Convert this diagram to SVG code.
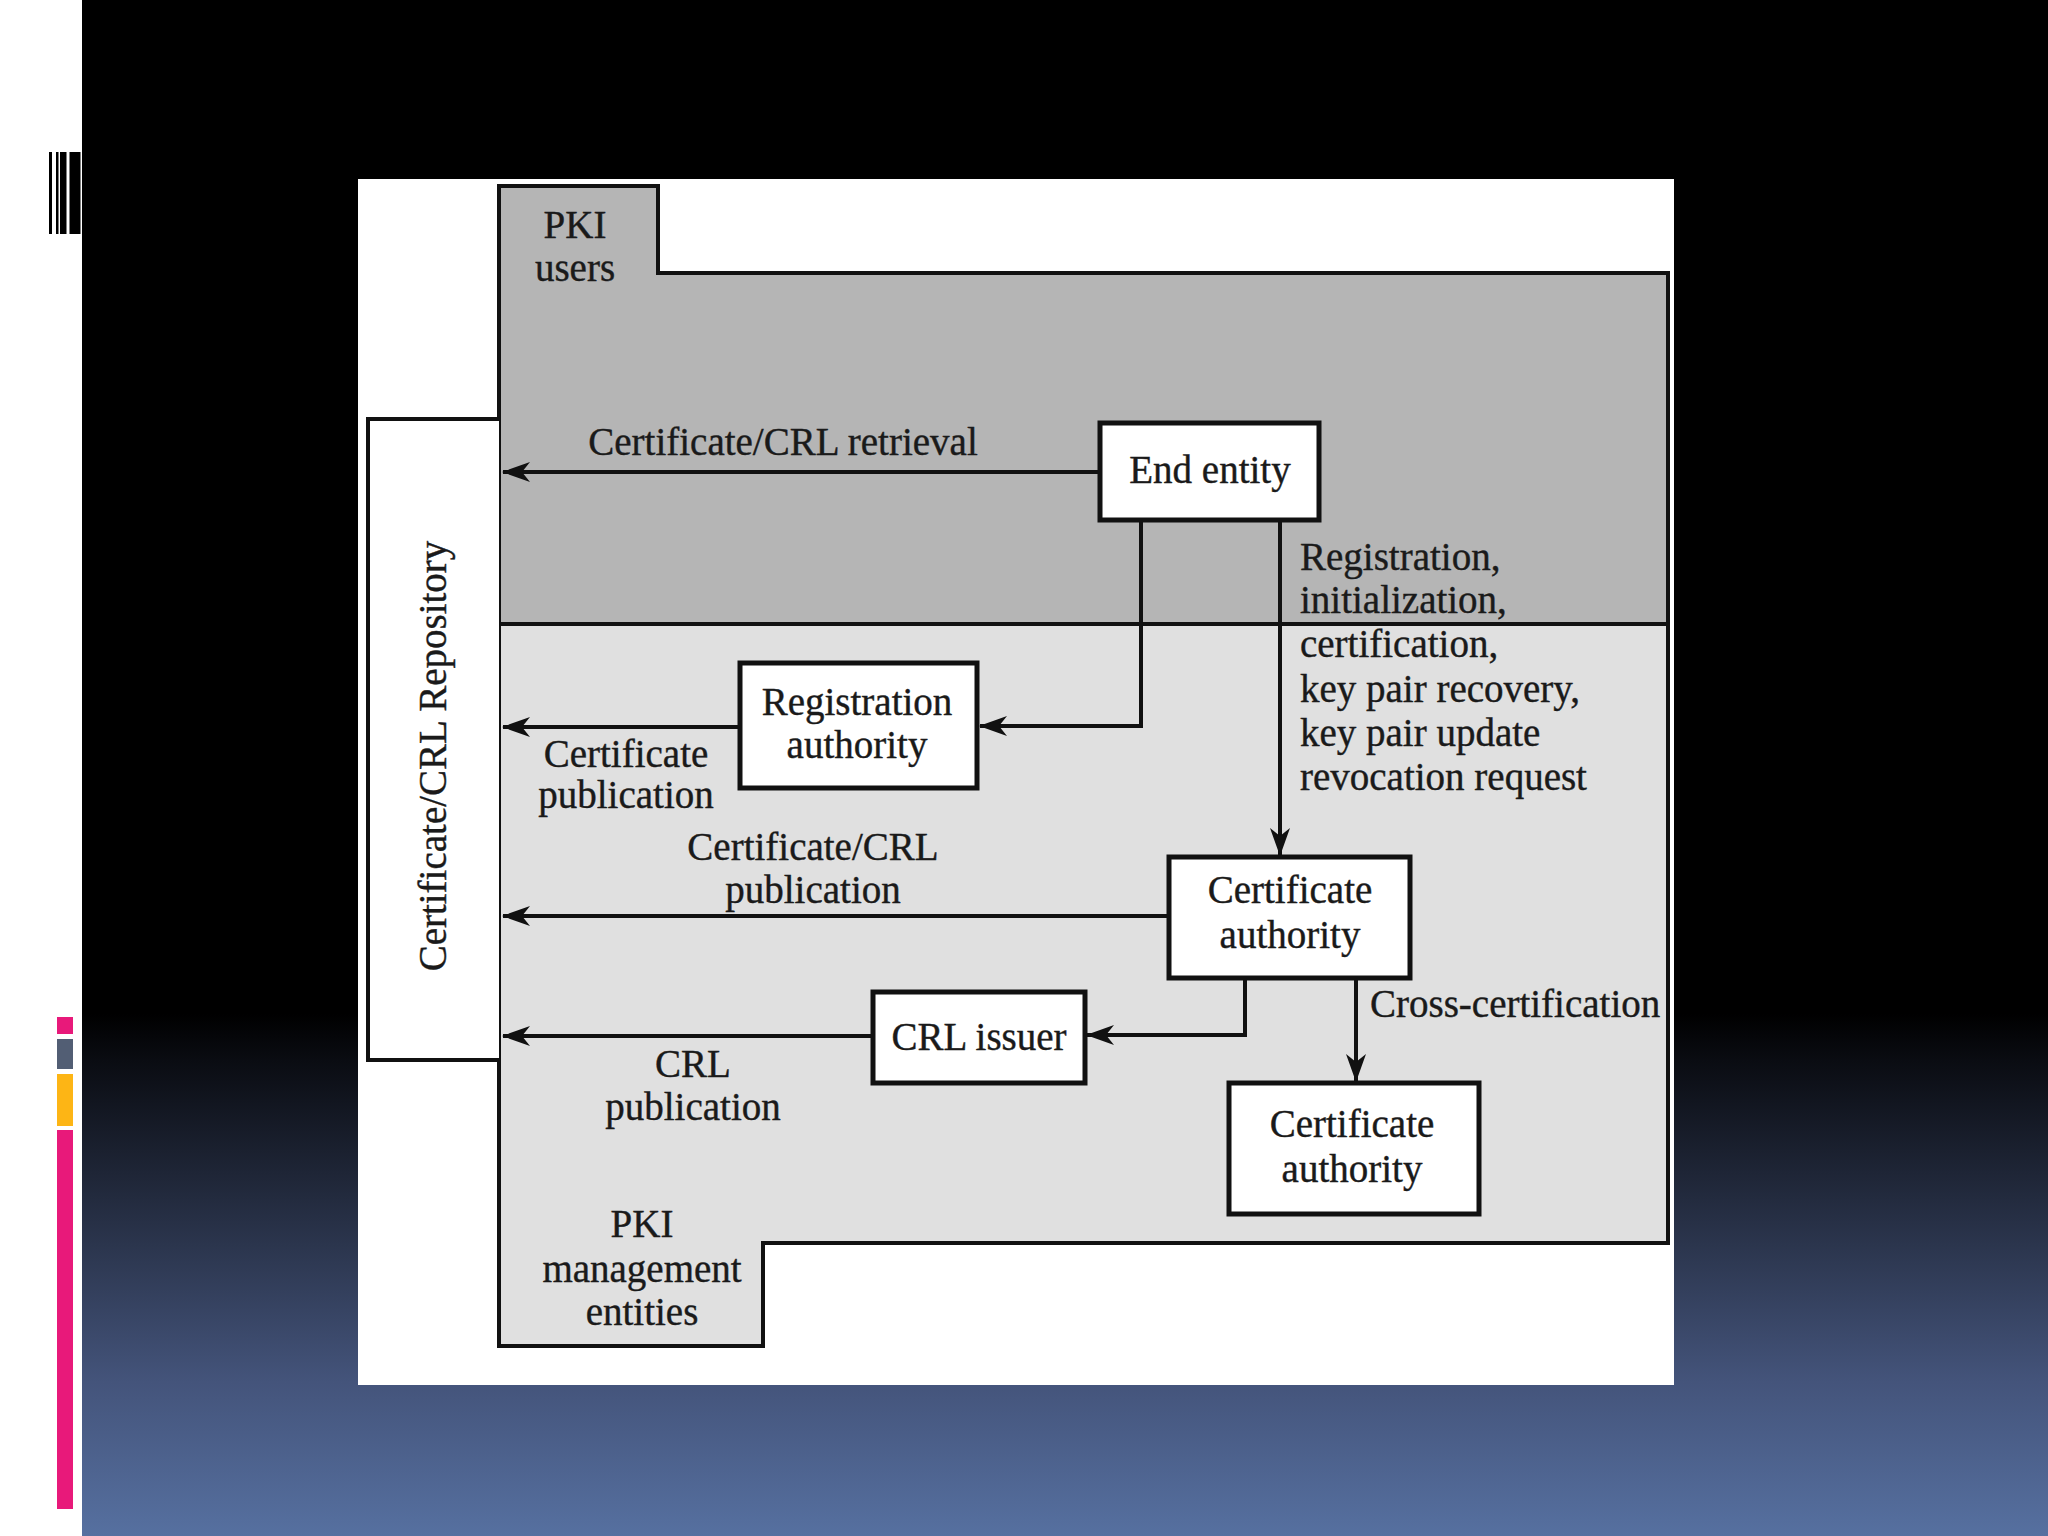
<svg xmlns="http://www.w3.org/2000/svg" width="2048" height="1536" viewBox="0 0 2048 1536">
<defs>
<linearGradient id="bg" x1="0" y1="0" x2="0" y2="1">
<stop offset="0" stop-color="#000"/>
<stop offset="0.66" stop-color="#000"/>
<stop offset="0.69" stop-color="#0a0c12"/>
<stop offset="0.81" stop-color="#2b354d"/>
<stop offset="0.9" stop-color="#44547b"/>
<stop offset="1" stop-color="#5670a0"/>
</linearGradient>
<marker id="ah" viewBox="0 0 28 20" refX="27" refY="10" markerWidth="28" markerHeight="20" markerUnits="userSpaceOnUse" orient="auto">
<path d="M0,0 L28,10 L0,20 L8,10 z" fill="#111"/>
</marker>
<style>
.t{font-family:"Liberation Serif","Times New Roman",serif;font-size:39px;fill:#1a1a1a;stroke:#1a1a1a;stroke-width:0.4}
.m{text-anchor:middle}
.region{stroke:#111;stroke-width:4}
.box{fill:#fff;stroke:#111;stroke-width:5}
.conn{fill:none;stroke:#111;stroke-width:4;marker-end:url(#ah)}
</style>
</defs>
<rect x="0" y="0" width="2048" height="1536" fill="url(#bg)"/>
<rect x="0" y="0" width="82" height="1536" fill="#fff"/>
<g id="barcode" fill="#000">
<rect x="49" y="152" width="3" height="82"/>
<rect x="56" y="152" width="2.5" height="82"/>
<rect x="60" y="152" width="6.5" height="82"/>
<rect x="69.5" y="152" width="11" height="82"/>
</g>
<g id="colorbars">
<rect x="57" y="1017" width="16" height="17" fill="#e8197a"/>
<rect x="57" y="1039" width="16" height="30" fill="#525e74"/>
<rect x="57" y="1074" width="16" height="52" fill="#fdb515"/>
<rect x="57" y="1130" width="16" height="379" fill="#e8197a"/>
</g>
<rect id="panel" x="358" y="179" width="1316" height="1206" fill="#fff"/>
<g id="pki-users">
<path class="region" fill="#b5b5b5" d="M499,186 L658,186 L658,273 L1668,273 L1668,624 L499,624 Z"/>
<text class="t m" x="575" y="238">PKI</text>
<text class="t m" x="575" y="281">users</text>
</g>
<g id="pki-management">
<path class="region" fill="#e0e0e0" d="M499,624 L1668,624 L1668,1243 L763,1243 L763,1346 L499,1346 Z"/>
<text class="t m" x="642" y="1237">PKI</text>
<text class="t m" x="642" y="1282">management</text>
<text class="t m" x="642" y="1325">entities</text>
</g>
<g id="repository">
<path fill="#fff" stroke="#111" stroke-width="4" d="M499,419 L368,419 L368,1060 L499,1060"/>
<text class="t m" transform="translate(446,756) rotate(-90)">Certificate/CRL Repository</text>
</g>
<g id="end-entity">
<rect class="box" x="1100" y="423" width="219" height="97"/>
<text class="t m" x="1210" y="483">End entity</text>
</g>
<g id="registration-authority">
<rect class="box" x="740" y="663" width="237" height="125"/>
<text class="t m" x="857" y="715">Registration</text>
<text class="t m" x="857" y="758">authority</text>
</g>
<g id="certificate-authority">
<rect class="box" x="1169" y="857" width="241" height="121"/>
<text class="t m" x="1290" y="903">Certificate</text>
<text class="t m" x="1290" y="948">authority</text>
</g>
<g id="crl-issuer">
<rect class="box" x="873" y="992" width="212" height="91"/>
<text class="t m" x="979" y="1050">CRL issuer</text>
</g>
<g id="certificate-authority-2">
<rect class="box" x="1229" y="1083" width="250" height="131"/>
<text class="t m" x="1352" y="1137">Certificate</text>
<text class="t m" x="1352" y="1182">authority</text>
</g>
<g id="connectors">
<path class="conn" d="M1100,472 L503,472"/>
<path class="conn" d="M1141,520 L1141,726 L980,726"/>
<path class="conn" d="M740,727 L503,727"/>
<path class="conn" d="M1280,520 L1280,855"/>
<path class="conn" d="M1169,916 L503,916"/>
<path class="conn" d="M1245,978 L1245,1035 L1087,1035"/>
<path class="conn" d="M873,1036 L503,1036"/>
<path class="conn" d="M1356,978 L1356,1081"/>
</g>
<g id="labels">
<text class="t m" x="783" y="455">Certificate/CRL retrieval</text>
<text class="t" x="1300" y="570">Registration,</text>
<text class="t" x="1300" y="613">initialization,</text>
<text class="t" x="1300" y="657">certification,</text>
<text class="t" x="1300" y="702">key pair recovery,</text>
<text class="t" x="1300" y="746">key pair update</text>
<text class="t" x="1300" y="790">revocation request</text>
<text class="t m" x="626" y="767">Certificate</text>
<text class="t m" x="626" y="808">publication</text>
<text class="t m" x="813" y="860">Certificate/CRL</text>
<text class="t m" x="813" y="903">publication</text>
<text class="t" x="1370" y="1017">Cross-certification</text>
<text class="t m" x="693" y="1077">CRL</text>
<text class="t m" x="693" y="1120">publication</text>
</g>
</svg>
